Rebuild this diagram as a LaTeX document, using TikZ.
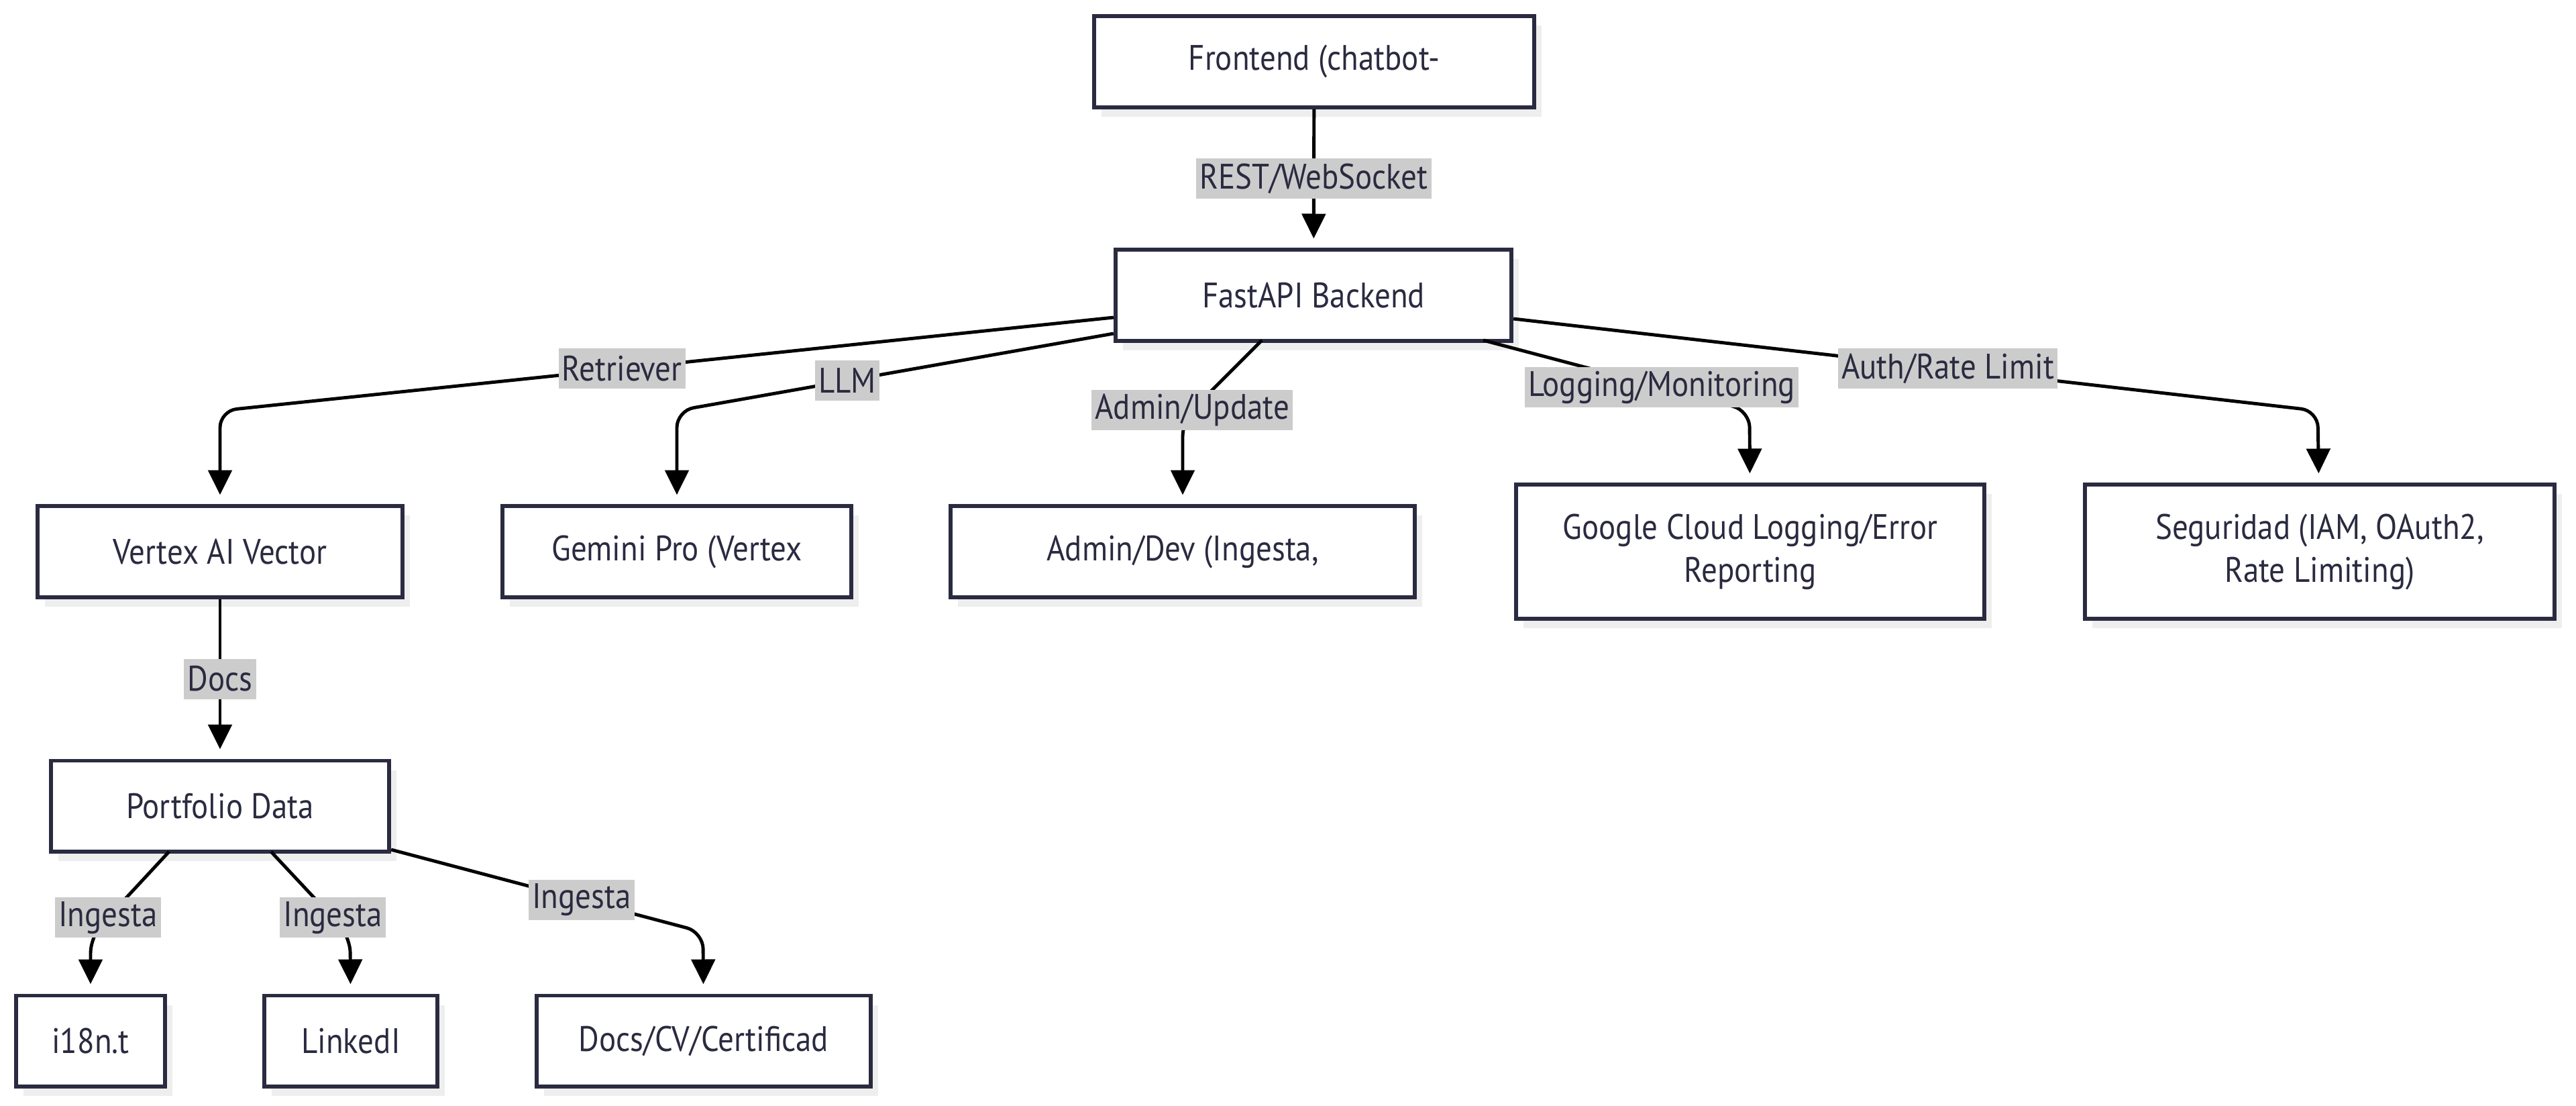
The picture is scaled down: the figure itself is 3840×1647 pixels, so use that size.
\documentclass[tikz,border=0pt]{standalone}
\usepackage{fontspec}
\setmainfont{PT Sans}[FakeStretch=0.89]
\usetikzlibrary{arrows.meta, positioning, shadows}
\definecolor{inkc}{HTML}{2A2A40}
\definecolor{lblgray}{HTML}{CCCCCC}
\definecolor{shadowc}{HTML}{EEEEEE}
\tikzset{
    block/.style={rectangle, draw=inkc, line width=1.7pt, fill=white, text=inkc, align=center, minimum height=1.35cm, font=\fontsize{15}{18.2}\selectfont, drop shadow={shadow xshift=0.11cm, shadow yshift=-0.14cm, fill=shadowc, opacity=1}},
    tallblock/.style={block, minimum height=1.99cm},
    arrow/.style={line width=1.4pt, -{Triangle[length=10.5pt, width=10pt]}, shorten >=4pt, rounded corners=0.25cm},
    elabel/.style={sharp corners, fill=lblgray, text=inkc, inner sep=1.5pt, minimum height=0.6cm, font=\fontsize{15}{18}\selectfont}
}

\begin{document}
\begin{tikzpicture}[x=0.01cm, y=-0.01cm]
    \useasboundingbox (0,0) rectangle (3840,1647);

    % Nodes
    \node[block, minimum width=6.56cm] (FE) at (1959,92) {Frontend (chatbot-};
    \node[block, minimum width=5.90cm] (BE) at (1958,440) {FastAPI Backend};
    \node[block, minimum width=5.44cm] (VX) at (328,822) {Vertex AI Vector};
    \node[block, minimum width=5.20cm] (GM) at (1009,822) {Gemini Pro (Vertex};
    \node[block, minimum width=6.91cm] (AD) at (1763,822) {Admin/Dev (Ingesta,};
    \node[tallblock, minimum width=6.98cm] (GL) at (2609,822) {Google Cloud Logging/Error\\Reporting};
    \node[tallblock, minimum width=7.00cm] (SEC) at (3458,822) {Seguridad (IAM, OAuth2,\\Rate Limiting)};
    \node[block, minimum width=5.04cm] (PD) at (328,1201) {Portfolio Data};
    \node[block, minimum width=2.21cm] (I18) at (135,1551) {i18n.t};
    \node[block, minimum width=2.57cm] (LI) at (523,1551) {LinkedI};
    \node[block, minimum width=4.97cm] (DOC) at (1049,1551) {Docs/CV/Certificad};

    % Arrows
    \draw[arrow] (FE) -- node[elabel, pos=0.5] (lRest) {REST/WebSocket} (BE);
    \draw[arrow] (BE.west |- 0,473) -- node[elabel, pos=0.55] (lRet) {Retriever} (328,612) -- (VX);
    \draw[arrow] (BE.west |- 0,497) -- node[elabel, pos=0.61] (lLlm) {LLM} (1009,612) -- (GM);
    \draw[arrow] (1881,507) -- node[elabel, pos=0.88] (lAdm) {Admin/Update} (1763,625) -- (AD);
    \draw[arrow] (2211,507) -- node[elabel, pos=0.67] (lLog) {Logging/Monitoring} (2608,612) -- (GL);
    \draw[arrow] (BE.east |- 0,475) -- node[elabel, pos=0.54] (lAuth) {Auth/Rate Limit} (3455,612) -- (SEC);
    \draw[arrow] (VX) -- node[elabel, pos=0.5] (lDocs) {Docs} (PD);
    \draw[arrow] (252,1269) -- node[elabel, pos=0.78] (lIng1) {Ingesta} (135,1395) -- (I18);
    \draw[arrow] (404,1269) -- node[elabel, pos=0.78] (lIng2) {Ingesta} (522,1395) -- (LI);
    \draw[arrow] (PD.east |- 0,1266) -- node[elabel, pos=0.61] (lIng3) {Ingesta} (1048,1389) -- (DOC);

    \end{tikzpicture}
\end{document}
